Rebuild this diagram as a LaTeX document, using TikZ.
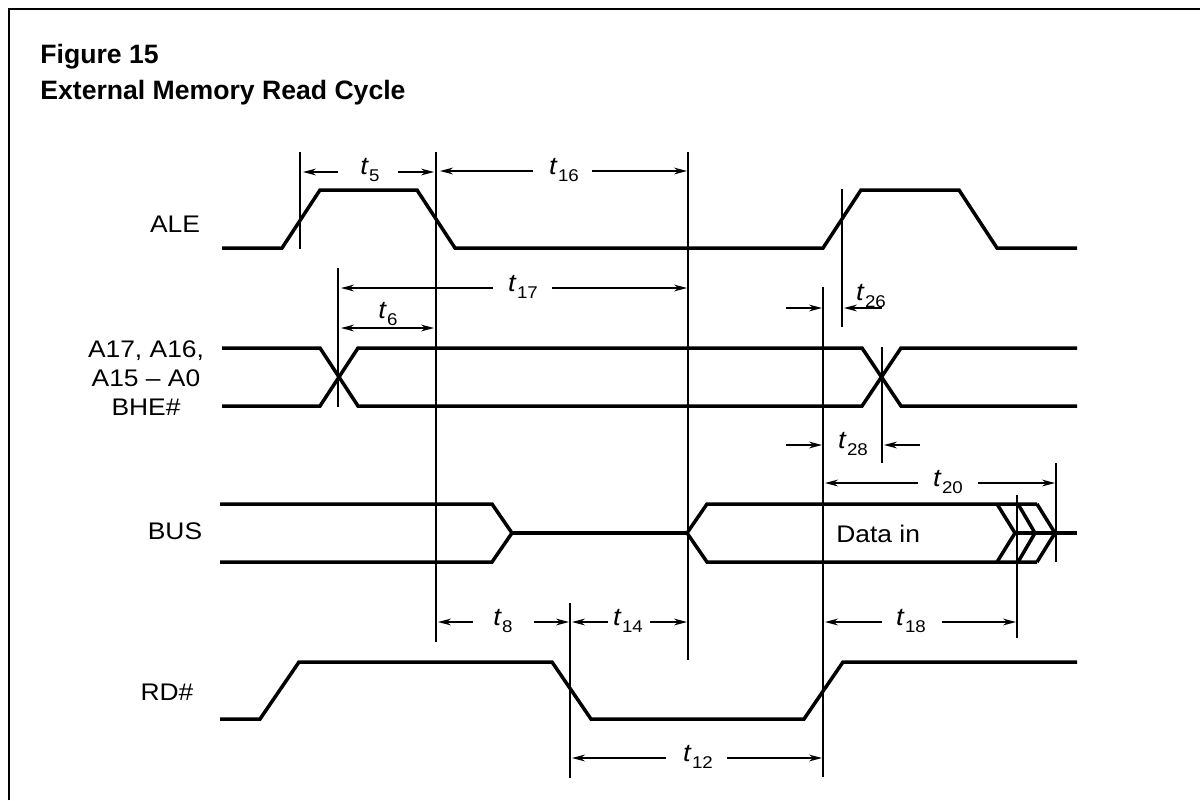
\documentclass[tikz,border=0pt]{standalone}
\usepackage{fontspec}
\setmainfont{Liberation Sans}
\newfontfamily\lblfont[FakeStretch=1.1]{Liberation Sans}
\usetikzlibrary{arrows.meta}
\newcommand{\tsub}[1]{{\itshape t}\kern0.6pt\raisebox{-0.5ex}{\fontsize{8.5pt}{9pt}\selectfont #1}}
\begin{document}
\begin{tikzpicture}[x=0.5pt,y=-0.5pt,
  sig/.style={line width=1.75pt, line join=miter},
  thin/.style={line width=0.7pt},
  dim/.style={line width=0.7pt, -{Stealth[length=6.5pt,width=3.4pt]}},
  ddim/.style={line width=0.7pt, {Stealth[length=6.5pt,width=3.4pt]}-{Stealth[length=6.5pt,width=3.4pt]}},
  lab/.style={font=\lblfont\fontsize{12pt}{14.5pt}\selectfont, inner sep=0pt},
  tlab/.style={font=\lblfont\fontsize{12.5pt}{14pt}\selectfont, inner sep=0pt},
  ttl/.style={font=\bfseries\fontsize{13.3pt}{15pt}\selectfont, inner sep=0pt, anchor=base west}
]
\useasboundingbox (0,0) rectangle (1200,800);
% frame
\draw[line width=1pt] (9,800) -- (9,9) -- (1200,9);
% title
\node[ttl] (fig) at (40,63) {Figure 15};
\node[ttl] (title) at (40,99) {External Memory Read Cycle};
% signal names
\node[lab] (ale) at (175,224) {ALE};
\node[lab, align=center] (addr) at (146,378) {A17, A16,\\A15 \textendash{} A0\\BHE\#};
\node[lab] (bus) at (175,531) {BUS};
\node[lab] (rd) at (167,692) {RD\#};
% waveforms
\draw[sig] (222,248) -- (282,248) -- (320,190) -- (417,190) -- (455,248) -- (823,248)
  -- (861,190) -- (959,190) -- (997,248) -- (1077,248);
\draw[sig] (222,348) -- (320,348) -- (358,406) -- (862,406) -- (901,348) -- (1077,348);
\draw[sig] (222,406) -- (320,406) -- (358,348) -- (862,348) -- (901,406) -- (1077,406);
\draw[sig] (220,504) -- (492,504) -- (512,533) -- (492,562) -- (220,562);
\draw[sig] (512,533) -- (687,533);
\draw[sig] (1037,504) -- (707,504) -- (687,533) -- (707,562) -- (1037,562);
\draw[sig] (997,504) -- (1015,533) -- (997,562);
\draw[sig] (1018,504) -- (1035,533) -- (1018,562);
\draw[sig] (1037,504) -- (1055,533) -- (1037,562);
\draw[sig] (1015,533) -- (1077,533);
\node[lab, anchor=west] (data) at (836,534) {Data in};
\draw[sig] (220,719) -- (260,719) -- (299,662) -- (552,662) -- (591,719) -- (804,719)
  -- (843,662) -- (1077,662);
% reference verticals
\draw[thin] (300,152) -- (300,249);
\draw[thin] (436,152) -- (436,642);
\draw[thin] (688,152) -- (688,660);
\draw[thin] (338,268) -- (338,407);
\draw[thin] (842,189) -- (842,327);
\draw[thin] (823,287) -- (823,777);
\draw[thin] (882,347) -- (882,463);
\draw[thin] (1056,463) -- (1056,562);
\draw[thin] (1017,495) -- (1017,638);
\draw[thin] (570,603) -- (570,778);
% timing labels
\node[tlab] (t5) at (370,170) {\tsub{5}};
\node[tlab] (t16) at (564,170) {\tsub{16}};
\node[tlab] (t17) at (523,287) {\tsub{17}};
\node[tlab] (t6) at (388,314) {\tsub{6}};
\node[tlab] (t26) at (871,296) {\tsub{26}};
\node[tlab] (t28) at (853,444) {\tsub{28}};
\node[tlab] (t20) at (948,482) {\tsub{20}};
\node[tlab] (t8) at (503,621) {\tsub{8}};
\node[tlab] (t14) at (628,621) {\tsub{14}};
\node[tlab] (t18) at (911,621) {\tsub{18}};
\node[tlab] (t12) at (698,757) {\tsub{12}};
% dimension arrows
\draw[dim] (338,172) -- (303,172);
\draw[dim] (398,172) -- (434,172);
\draw[dim] (533,171) -- (440,171);
\draw[dim] (592,171) -- (687,171);
\draw[dim] (493,288) -- (341,288);
\draw[dim] (552,288) -- (687,288);
\draw[ddim] (341,328) -- (434,328);
\draw[dim] (786,308) -- (822,308);
\draw[dim] (882,308) -- (844,308);
\draw[dim] (786,445) -- (822,445);
\draw[dim] (920,445) -- (884,445);
\draw[dim] (918,483) -- (825,483);
\draw[dim] (978,483) -- (1055,483);
\draw[dim] (473,622) -- (438,622);
\draw[dim] (534,622) -- (569,622);
\draw[dim] (608,622) -- (572,622);
\draw[dim] (650,622) -- (687,622);
\draw[dim] (882,622) -- (825,622);
\draw[dim] (942,622) -- (1016,622);
\draw[dim] (666,758) -- (572,758);
\draw[dim] (727,758) -- (822,758);
\end{tikzpicture}
\end{document}
